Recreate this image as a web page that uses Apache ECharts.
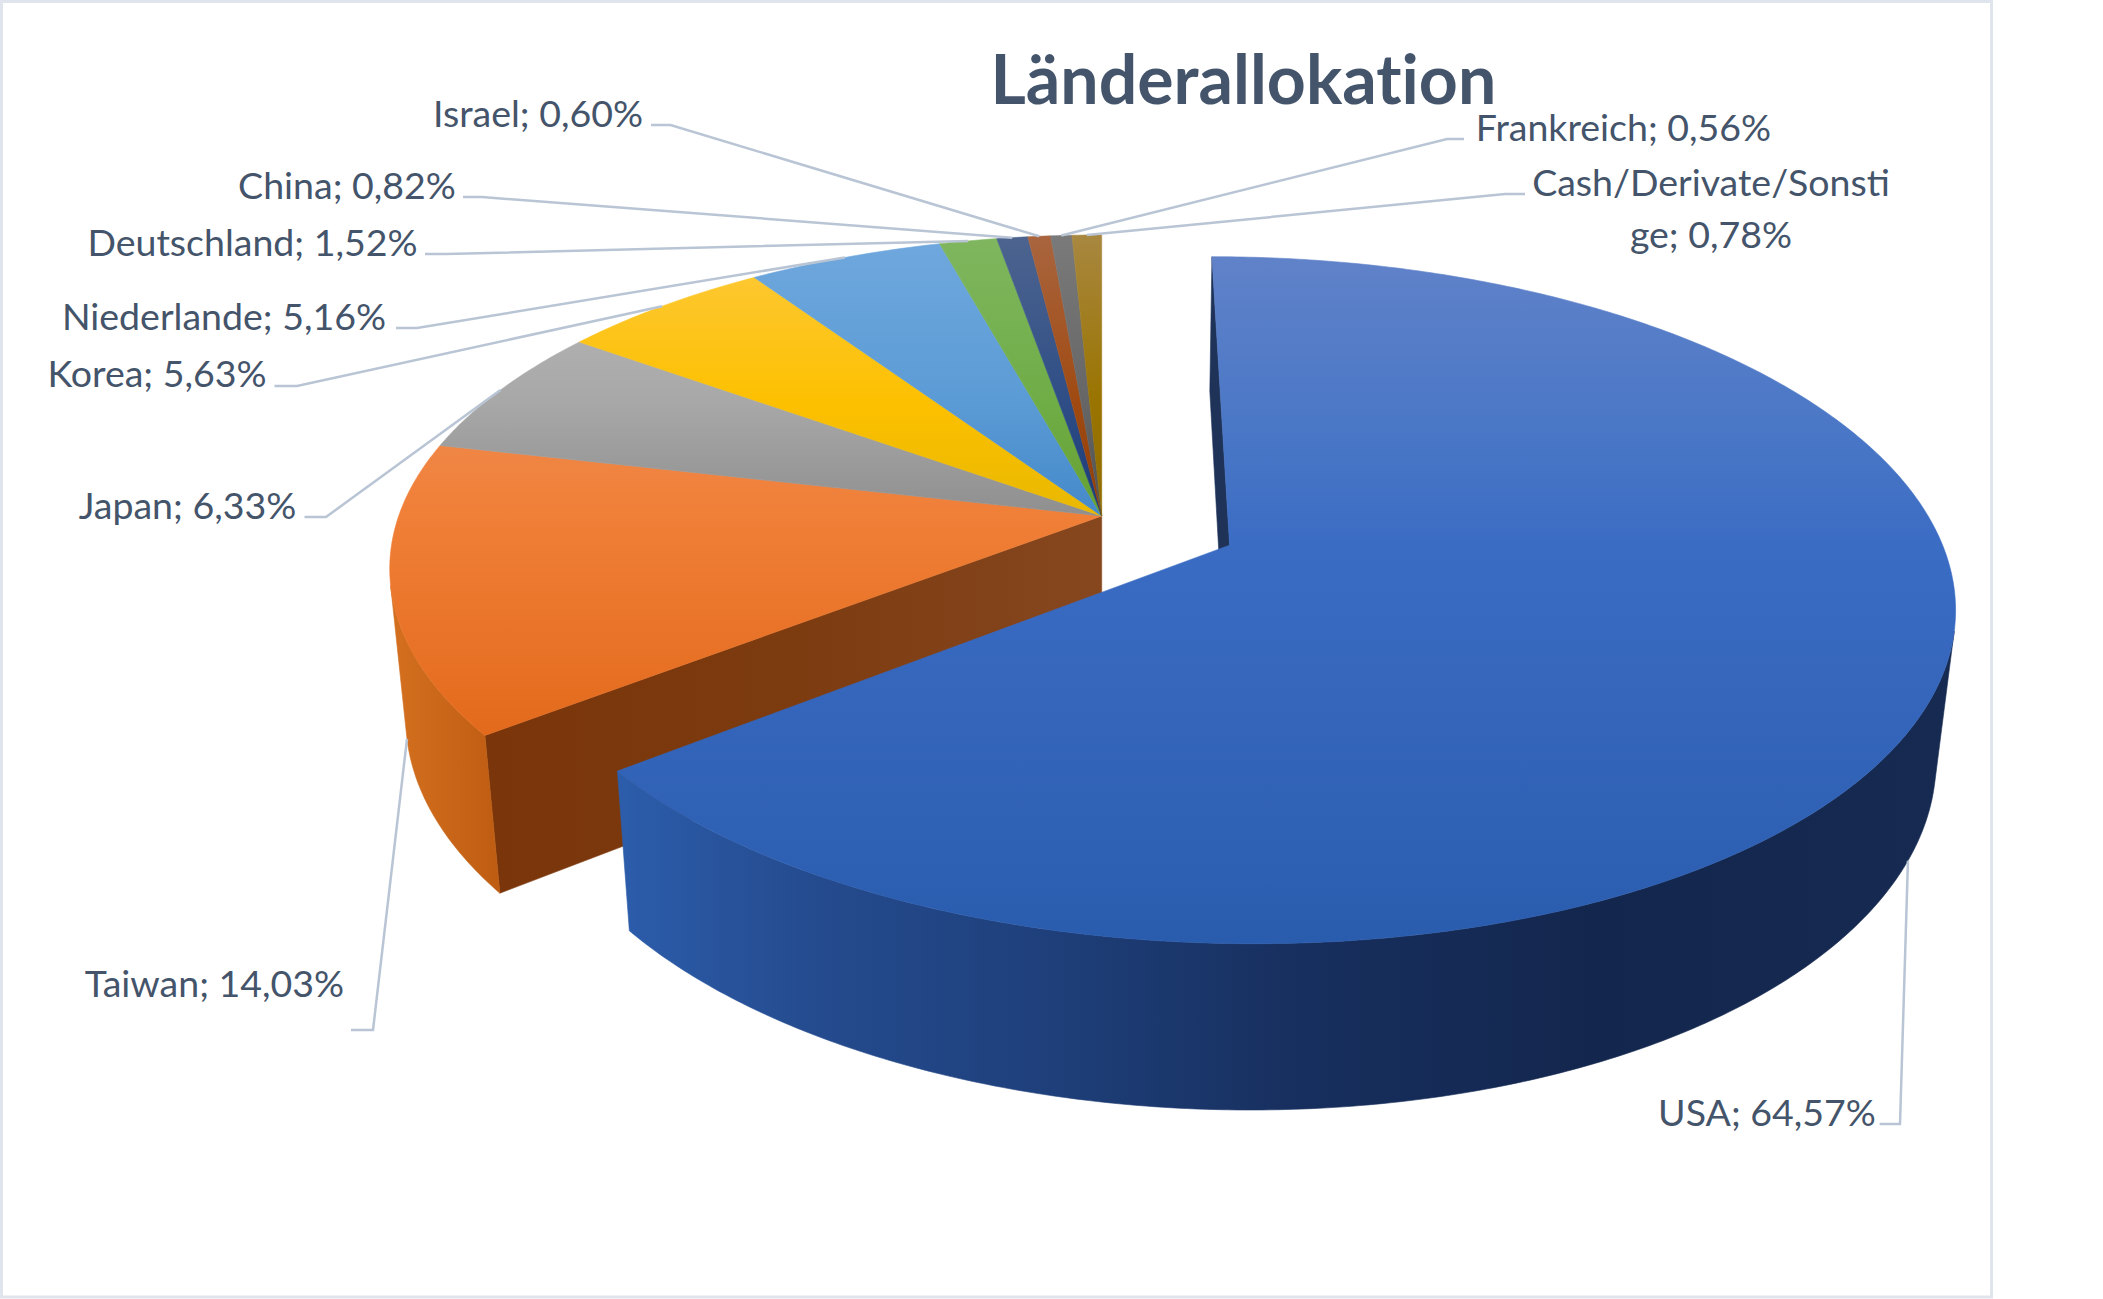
<!DOCTYPE html>
<html lang="de">
<head>
<meta charset="utf-8">
<title>Länderallokation</title>
<style>
  html, body { margin: 0; padding: 0; background: #fff; }
  #chart { width: 2103px; height: 1299px; }
  #chart text { font-variant-ligatures: none; }
</style>
<script src="https://cdn.jsdelivr.net/npm/echarts@6/dist/echarts.min.js"></script>
</head>
<body>
<div id="chart"></div>
<script>
// Portfolio weights per country, in percent, clockwise from twelve o'clock.
const countries = ['USA', 'Taiwan', 'Japan', 'Korea', 'Niederlande', 'Deutschland', 'China', 'Israel', 'Frankreich', 'Cash/Derivate/Sonstige'];
const shares = [64.57, 14.03, 6.33, 5.63, 5.16, 1.52, 0.82, 0.60, 0.56, 0.78];
const chartTitle = 'Länderallokation';

// Top-face shading per slice, light to dark.
const faceOffsets = [0, 0.25, 0.42, 1];
const faceShades = [
  ['#6082C9', '#4A77C6', '#3B6CC4', '#2A5CAE'],
  ['#ED9A72', '#EF8A4E', '#F07F37', '#D95A08'],
  ['#BABABA', '#A8A8A8', '#8F8F8F', '#8F8F8F'],
  ['#FDCA40', '#FDC000', '#E8B800', '#D0A000'],
  ['#70A8DE', '#5B9BD5', '#4489CA', '#3070B0'],
  ['#7FB65F', '#6FAD47', '#66A030', '#508020'],
  ['#4D648F', '#2F4E86', '#1A3A78', '#1A3A78'],
  ['#A9653F', '#A04A12', '#8F3D05', '#8F3D05'],
  ['#7A7A7A', '#666666', '#505050', '#505050'],
  ['#A88740', '#9A7400', '#8F6C00', '#8F6C00']
];

// Side shading per slice, left to right across the page.
const rimShades = [
  [[618, '#2C5DAB'], [800, '#254C90'], [1050, '#1E3F7A'], [1300, '#172F5E'], [1600, '#13264D'], [1960, '#172B52']],
  [[390, '#D4701F'], [500, '#BE5C12']]
];
const cutWallShades = [[500, '#7A360A'], [800, '#7D3B10'], [1101, '#86471F']];
const usaCutShade = '#1F3359';

// Leader lines: x where the line leaves the label, x of the elbow, y of the level run.
const leaderRuns = [
  [1879.6, 1900, 1124], [351, 373, 1030], [304.5, 326, 517], [274.5, 297, 386], [396, 417, 328],
  [425, 446, 254], [463, 482, 197], [651, 670.5, 125], [1464, 1447, 139], [1525, 1505, 194]
];
// Label anchors: centre x and centre y of the first text line.
const labelSpots = [
  [1767, 1111.5], [214.5, 982.5], [187.5, 504.5], [157, 372.5], [224, 315.5],
  [252.5, 241.5], [347, 184.5], [538, 112.5], [1623.5, 126.5], [1711, 181.5]
];
const labelWrapAt = 20;
const labelLineGap = 52;

// Perspective camera for the disc: unit radius, depth runs from 0 (top) to 1 (bottom).
const cam = { x0: 1101.7, y0: 516, a: 703, b: 325.4, h: 151, k: 0.158, m: 0.0224 };
const explodeUsa = 0.2;
const discBack = 235, discFront = 902;

function project(px, py, z) {
  const w = 1 + cam.k * py + cam.m * z;
  return [cam.x0 + cam.a * px / w, cam.y0 + (-cam.b * py + cam.h * z) / w];
}

// Cumulative angle at the start of each slice.
const total = shares.reduce((s, v) => s + v, 0);
const startAngles = [];
shares.reduce((sum, v, i) => { startAngles[i] = sum / total * 2 * Math.PI; return sum + v; }, 0);

function sliceInfo(i) {
  const a0 = startAngles[i];
  const a1 = a0 + shares[i] / total * 2 * Math.PI;
  const mid = (a0 + a1) / 2;
  const off = i === 0 ? explodeUsa : 0;
  return { a0, a1, mid, ox: off * Math.sin(mid), oy: off * Math.cos(mid) };
}

function rimPoint(s, angle, z) {
  return project(s.ox + Math.sin(angle), s.oy + Math.cos(angle), z);
}

function arc(s, from, to, z) {
  const n = Math.max(4, Math.ceil(Math.abs(to - from) / 0.01));
  const pts = [];
  for (let j = 0; j <= n; j++) pts.push(rimPoint(s, from + (to - from) * j / n, z));
  return pts;
}

function horizontal(stops) {
  const x0 = stops[0][0], x1 = stops[stops.length - 1][0];
  return new echarts.graphic.LinearGradient(x0, 0, x1, 0,
    stops.map(t => ({ offset: (t[0] - x0) / (x1 - x0), color: t[1] })), true);
}

function faceFill(i) {
  const back = i === 0 ? rimPoint(sliceInfo(0), 0, 0)[1] : discBack;
  const front = i === 0 ? rimPoint(sliceInfo(0), Math.PI, 0)[1] : discFront;
  return new echarts.graphic.LinearGradient(0, back, 0, front,
    faceOffsets.map((o, n) => ({ offset: o, color: faceShades[i][n] })), true);
}

function poly(points, fill, z2) {
  return { type: 'polygon', z2, shape: { points }, style: { fill, stroke: fill, lineWidth: 0.6 }, silent: true };
}

// The part of a slice's rim that faces the viewer, bounded by the cylinder's tangent lines.
function frontRim(s, fill, z2) {
  let lo = null, hi = null;
  for (let a = s.a0; a <= s.a1; a += 0.002) {
    const p = rimPoint(s, a, 0), q = rimPoint(s, a + 0.002, 0), g = rimPoint(s, a, 1);
    const facing = (q[0] - p[0]) * (g[1] - p[1]) - (q[1] - p[1]) * (g[0] - p[0]) < 0;
    if (facing) { if (lo === null) lo = a; hi = a; }
  }
  return poly(arc(s, lo, hi, 0).concat(arc(s, hi, lo, 1)), fill, z2);
}

// Draws one slice: side walls first, top face over them; the exploded slice sits above the rest.
function renderSlice(params) {
  const i = params.dataIndex;
  const s = sliceInfo(i);
  const lift = i === 0 ? 10 : 0;
  const apexTop = project(s.ox, s.oy, 0);
  const apexBottom = project(s.ox, s.oy, 1);
  const children = [];

  if (i === 0) {
    children.push(poly([apexTop, apexBottom, rimPoint(s, s.a0, 1), rimPoint(s, s.a0, 0)], usaCutShade, lift + 1));
    children.push(frontRim(s, horizontal(rimShades[0]), lift + 2));
  } else if (i === 1) {
    children.push(poly([apexTop, apexBottom, rimPoint(s, s.a0, 1), rimPoint(s, s.a0, 0)], horizontal(cutWallShades), 1));
    children.push(frontRim(s, horizontal(rimShades[1]), 2));
  }
  children.push(poly([apexTop].concat(arc(s, s.a0, s.a1, 0)), faceFill(i), lift + 3));
  return { type: 'group', children };
}

function labelText(i) {
  const text = countries[i] + '; ' + shares[i].toFixed(2).replace('.', ',') + '%';
  return text.length > labelWrapAt ? [text.slice(0, labelWrapAt), text.slice(labelWrapAt)] : [text];
}

// Draws the leader line and the text of one slice.
function renderLabel(params) {
  const i = params.dataIndex;
  const s = sliceInfo(i);
  // Slices on the near side carry their leader from the bottom rim, the rest from the top rim.
  const nearSide = Math.cos(s.mid) < 0;
  const anchor = rimPoint(s, s.mid, nearSide ? 1 : 0);
  const run = leaderRuns[i];
  const children = [{
    type: 'polyline', z2: 30, silent: true,
    shape: { points: [[run[0], run[2]], [run[1], run[2]], anchor] },
    style: { stroke: '#B9C5D5', lineWidth: 2.5, fill: 'none' }
  }];
  labelText(i).forEach((line, n) => children.push({
    type: 'text', z2: 31, silent: true,
    style: {
      text: line, x: labelSpots[i][0], y: labelSpots[i][1] + n * labelLineGap,
      align: 'center', verticalAlign: 'middle',
      fill: '#44546A', font: '37.5px Lato'
    }
  }));
  return { type: 'group', children };
}

const chart = echarts.init(document.getElementById('chart'), null, { renderer: 'svg' });
chart.setOption({
  animation: false,
  backgroundColor: '#ffffff',
  title: {
    text: chartTitle, left: 985.5, top: 38,
    textStyle: { fontFamily: 'Lato', fontWeight: 'bold', fontSize: 68, color: '#44546A' }
  },
  graphic: [{
    type: 'rect', silent: true, z: -1,
    shape: { x: 1.5, y: 1.5, width: 1990, height: 1295.5 },
    style: { fill: '#ffffff', stroke: '#E0E4EC', lineWidth: 3 }
  }],
  series: [
    { type: 'custom', name: 'Länderallokation', coordinateSystem: 'none', data: shares, renderItem: renderSlice, z: 2 },
    { type: 'custom', name: 'Beschriftung', coordinateSystem: 'none', data: shares, renderItem: renderLabel, z: 3 }
  ]
});
</script>
</body>
</html>
